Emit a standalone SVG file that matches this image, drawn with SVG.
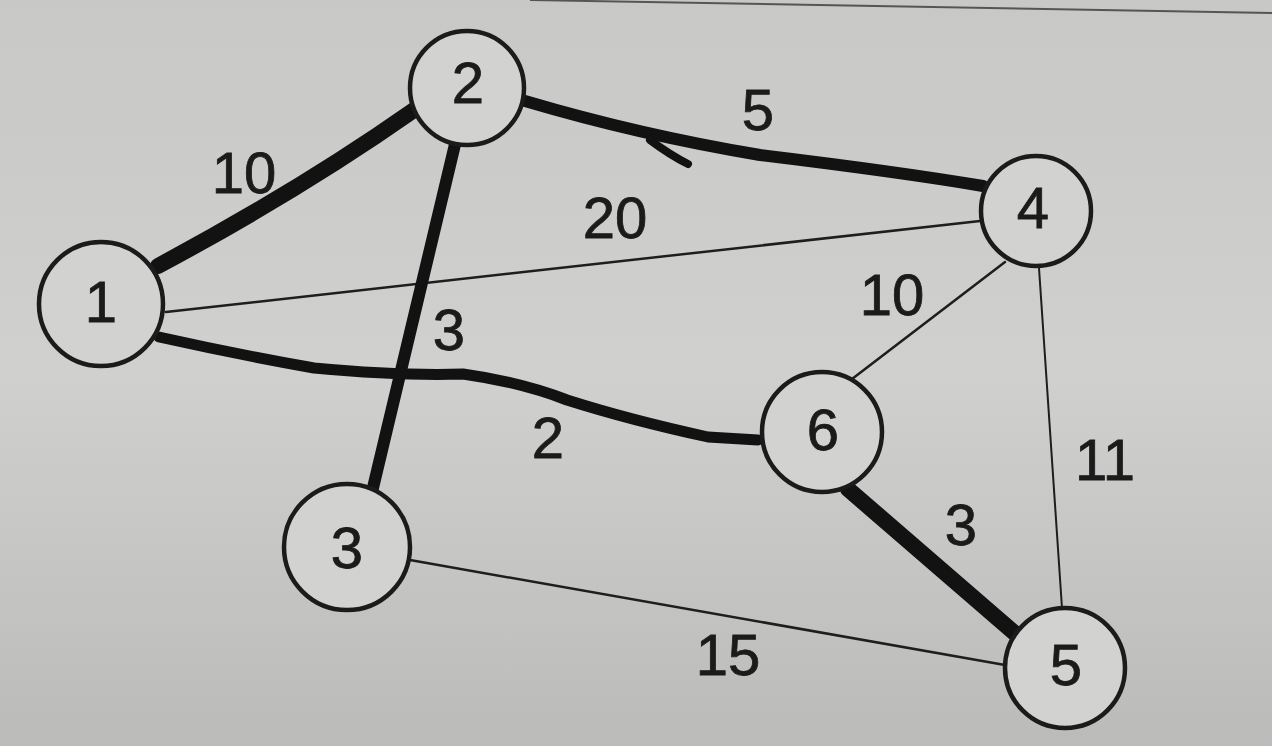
<svg xmlns="http://www.w3.org/2000/svg" width="1272" height="746" viewBox="0 0 1272 746">
<defs>
<linearGradient id="bg" x1="0" y1="0" x2="0" y2="1">
<stop offset="0" stop-color="#c8c8c6"/>
<stop offset="0.5" stop-color="#d0d0ce"/>
<stop offset="1" stop-color="#bbbbba"/>
</linearGradient>
<style>
.node circle{fill:#d2d2d0;stroke:#1b1b1b;stroke-width:4.5}
.node text,.lbl{font-family:"Liberation Sans",Arial,sans-serif;font-size:58px;fill:#1b1b1b;stroke:#1b1b1b;stroke-width:0.8;text-anchor:middle}
.thin{fill:none;stroke:#1e1e1e;stroke-width:2.5;stroke-linecap:round}
.thick{fill:none;stroke:#121212;stroke-linecap:round;stroke-linejoin:round}
</style>
</defs>
<rect width="1272" height="746" fill="url(#bg)"/>
<path d="M530 0 L1272 13" stroke="#555" stroke-width="2" fill="none"/>
<g id="connectors">
<path id="e1-4" class="thin" d="M166 312 L980 221"/>
<path id="e4-6" class="thin" d="M1005 262 L852 379"/>
<path id="e4-5" class="thin" style="stroke-width:2" d="M1039 268 L1062 608"/>
<path id="e3-5" class="thin" d="M410 560 L1005 665"/>
<path id="e1-2" class="thick" style="stroke-width:16" d="M158 266 Q300 190 414 110"/>
<path id="e2-3" class="thick" style="stroke-width:12" d="M457 136 L372 492"/>
<path id="e2-4" class="thick" style="stroke-width:12" d="M525 101 Q640 135 760 155 Q900 172 983 186"/>
<path id="e2-4b" class="thick" style="stroke-width:8" d="M650 140 Q670 155 688 164"/>
<path id="e1-6" class="thick" style="stroke-width:11" d="M159 337 Q240 355 314 368 Q400 376 463 374 Q520 382 567 400 Q630 420 708 437 L758 440"/>
<path id="e6-5" class="thick" style="stroke-width:16" d="M848 489 L1018 636"/>
</g>
<g id="labels">
<text class="lbl" x="244" y="193">10</text>
<text class="lbl" x="758" y="130">5</text>
<text class="lbl" x="615" y="238">20</text>
<text class="lbl" x="449" y="350">3</text>
<text class="lbl" x="892" y="315">10</text>
<text class="lbl" x="548" y="458">2</text>
<text class="lbl" x="1105" y="480">11</text>
<text class="lbl" x="961" y="545">3</text>
<text class="lbl" x="728" y="675">15</text>
</g>
<g id="node1" class="node"><circle cx="101" cy="304" r="62"/><text x="101" y="322">1</text></g>
<g id="node2" class="node"><circle cx="467" cy="88" r="57"/><text x="468" y="103">2</text></g>
<g id="node3" class="node"><circle cx="347" cy="547" r="63"/><text x="347" y="568">3</text></g>
<g id="node4" class="node"><circle cx="1036" cy="211" r="55"/><text x="1033" y="228">4</text></g>
<g id="node5" class="node"><circle cx="1065" cy="668" r="60"/><text x="1066" y="685">5</text></g>
<g id="node6" class="node"><circle cx="822" cy="432" r="60"/><text x="823" y="450">6</text></g>
</svg>
